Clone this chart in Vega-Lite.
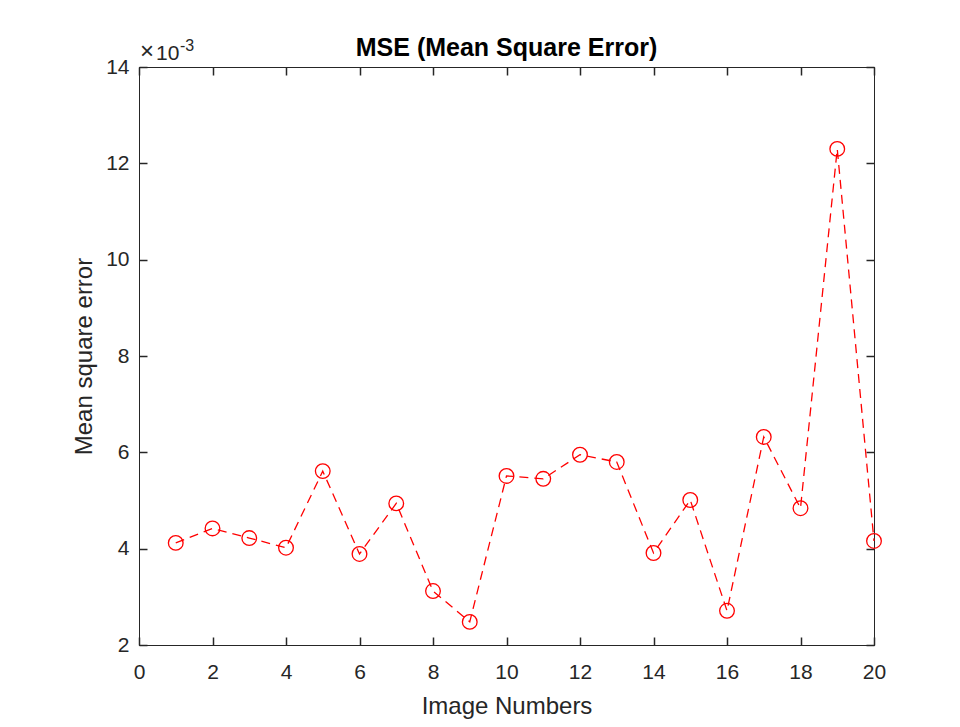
{
  "$schema": "https://vega.github.io/schema/vega-lite/v6.json",
  "width": 735,
  "height": 578,
  "autosize": "none",
  "padding": {"left": 139, "top": 67, "right": 86, "bottom": 82},
  "background": "white",
  "config": {
    "font": "Liberation Sans",
    "view": {"stroke": "#262626", "strokeWidth": 1},
    "axis": {
      "domainColor": "#262626",
      "tickColor": "#262626",
      "labelColor": "#262626",
      "titleColor": "#262626",
      "labelFont": "Liberation Sans",
      "titleFont": "Liberation Sans",
      "labelFontSize": 21,
      "titleFontSize": 24,
      "titleFontWeight": "normal",
      "grid": false,
      "tickSize": -8,
      "tickWidth": 1.5,
      "labelFlush": false,
      "labelOverlap": false
    }
  },
  "title": {
    "text": "MSE (Mean Square Error)",
    "font": "Liberation Sans",
    "fontSize": 25,
    "fontWeight": "bold",
    "color": "#000000",
    "anchor": "middle",
    "offset": -23
  },
  "data": {
    "values": [
      {"image": 1, "mse": 0.00412},
      {"image": 2, "mse": 0.00442},
      {"image": 3, "mse": 0.00422},
      {"image": 4, "mse": 0.00402},
      {"image": 5, "mse": 0.00561},
      {"image": 6, "mse": 0.00389},
      {"image": 7, "mse": 0.00494},
      {"image": 8, "mse": 0.00312},
      {"image": 9, "mse": 0.00248},
      {"image": 10, "mse": 0.00551},
      {"image": 11, "mse": 0.00545},
      {"image": 12, "mse": 0.00595},
      {"image": 13, "mse": 0.00580},
      {"image": 14, "mse": 0.00391},
      {"image": 15, "mse": 0.00501},
      {"image": 16, "mse": 0.00271},
      {"image": 17, "mse": 0.00632},
      {"image": 18, "mse": 0.00484},
      {"image": 19, "mse": 0.01230},
      {"image": 20, "mse": 0.00416}
    ]
  },
  "layer": [
    {
      "mark": {"type": "line", "color": "#FF0000", "strokeDash": [9, 6], "strokeWidth": 1.3},
      "encoding": {
        "x": {
          "field": "image", "type": "quantitative",
          "scale": {"domain": [0, 20], "nice": false, "zero": false},
          "axis": {"orient": "bottom", "values": [0, 2, 4, 6, 8, 10, 12, 14, 16, 18, 20], "title": "Image Numbers", "labelPadding": 24, "titlePadding": 12}
        },
        "y": {
          "field": "mse", "type": "quantitative",
          "scale": {"domain": [0.002, 0.014], "nice": false, "zero": false},
          "axis": {"orient": "left", "values": [0.002, 0.004, 0.006, 0.008, 0.01, 0.012, 0.014], "labelExpr": "round(datum.value*1000)", "title": "Mean square error", "labelPadding": 18, "titlePadding": 9}
        }
      }
    },
    {
      "mark": {"type": "point", "shape": "circle", "filled": false, "color": "#FF0000", "size": 215, "strokeWidth": 1.3, "opacity": 1},
      "encoding": {
        "x": {
          "field": "image", "type": "quantitative",
          "axis": {"orient": "top", "values": [0, 2, 4, 6, 8, 10, 12, 14, 16, 18, 20], "labels": false, "title": null}
        },
        "y": {
          "field": "mse", "type": "quantitative",
          "axis": {"orient": "right", "values": [0.002, 0.004, 0.006, 0.008, 0.01, 0.012, 0.014], "labels": false, "title": null}
        }
      }
    },
    {
      "data": {"values": [{"label": "×"}]},
      "mark": {"type": "text", "align": "left", "baseline": "alphabetic", "fontSize": 24, "font": "Liberation Sans", "color": "#262626", "dx": 1, "dy": -8},
      "encoding": {
        "text": {"field": "label"},
        "x": {"datum": 0, "type": "quantitative", "axis": null},
        "y": {"datum": 0.014, "type": "quantitative", "axis": null}
      }
    },
    {
      "data": {"values": [{"label": "10"}]},
      "mark": {"type": "text", "align": "left", "baseline": "alphabetic", "fontSize": 21, "font": "Liberation Sans", "color": "#262626", "dx": 17, "dy": -7},
      "encoding": {
        "text": {"field": "label"},
        "x": {"datum": 0, "type": "quantitative", "axis": null},
        "y": {"datum": 0.014, "type": "quantitative", "axis": null}
      }
    },
    {
      "data": {"values": [{"label": "-3"}]},
      "mark": {"type": "text", "align": "left", "baseline": "alphabetic", "fontSize": 16, "font": "Liberation Sans", "color": "#262626", "dx": 41, "dy": -16},
      "encoding": {
        "text": {"field": "label"},
        "x": {"datum": 0, "type": "quantitative", "axis": null},
        "y": {"datum": 0.014, "type": "quantitative", "axis": null}
      }
    }
  ],
  "resolve": {"axis": {"x": "independent", "y": "independent"}}
}
